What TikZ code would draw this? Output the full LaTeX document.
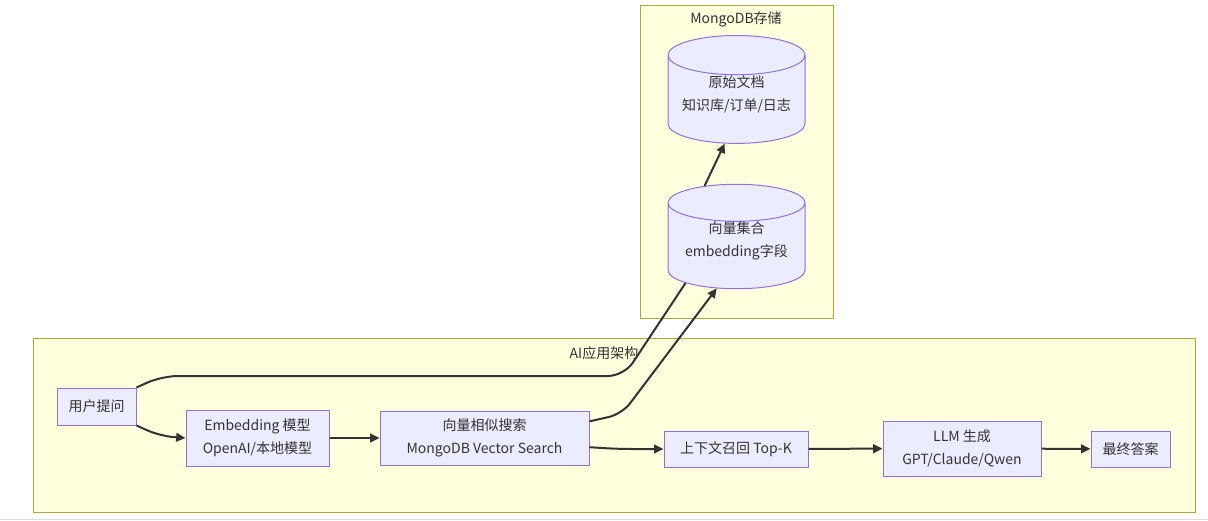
\documentclass[tikz,border=0pt]{standalone}
\usepackage{fontspec}
\setmainfont{Noto Sans CJK SC}
\usepackage{tikz}
\usetikzlibrary{shapes.geometric, arrows.meta, positioning}
\definecolor{cNode}{HTML}{ECECFF}
\definecolor{cNodeLine}{HTML}{9370DB}
\definecolor{cGroup}{HTML}{FFFFDE}
\definecolor{cGroupLine}{HTML}{AAAA33}
\definecolor{cEdge}{HTML}{333333}
\tikzset{
	proc/.style   ={rectangle, draw=cNodeLine, fill=cNode, line width=0.75pt, align=center, text=cEdge, inner sep=0pt},
	store/.style  ={cylinder, shape border rotate=90, aspect=0.36, draw=cNodeLine, fill=cNode, line width=0.75pt, align=center, text=cEdge, minimum width=102.75pt, minimum height=64pt, inner sep=0pt, text depth=10pt},
	group/.style  ={draw=cGroupLine, fill=cGroup, line width=0.75pt},
	gtitle/.style ={text=cEdge, inner sep=0pt},
	sig/.style    ={-{Triangle[length=7pt, width=6.5pt]}, line width=1.5pt, draw=cEdge, rounded corners=10pt},
	plain/.style  ={line width=1.5pt, draw=cEdge, rounded corners=12pt},
}
\begin{document}
\begin{tikzpicture}[x=0.75pt, y=-0.75pt, font=\fontsize{10.5}{17.5}\selectfont]
	\useasboundingbox (0,0) rectangle (1208,521);
	\draw[gray!25, line width=0.75pt] (0,519.5) -- (1208,519.5);
	% groups
	\draw[group] (640,5) rectangle (833,318);
	\node[gtitle] (dbtitle) at (736,19) {MongoDB存储};
	\draw[group] (33,338) rectangle (1195,512);
	\node[gtitle] (aititle) at (604,353) {AI应用架构};
	% storage
	\node[store] (raw) at (736.5,99.5) {原始文档\\知识库/订单/日志};
	\node[store] (vec) at (736.5,246) {向量集合\\embedding字段};
	% pipeline
	\node[proc, minimum width=59.25pt, minimum height=27.75pt] (ask) at (96.5,406.5) {用户提问};
	\node[proc, minimum width=107.25pt, minimum height=42pt] (emb) at (257.5,438) {Embedding 模型\\OpenAI/本地模型};
	\node[proc, minimum width=156.75pt, minimum height=40.5pt] (search) at (484.5,438) {向量相似搜索\\MongoDB Vector Search};
	\node[proc, minimum width=108pt, minimum height=27pt] (ctx) at (736,449) {上下文召回 Top-K};
	\node[proc, minimum width=118.5pt, minimum height=41.25pt] (llm) at (962,448.5) {LLM 生成\\GPT/Claude/Qwen};
	\node[proc, minimum width=59.25pt, minimum height=27pt] (ans) at (1130.5,449) {最终答案};
	% edges
	\draw[plain] (ask.north east) -- (162,376) -- (624,376) -- (vec.216);
	\draw[sig] (ask.south east) -- (160,436) -- (emb.west);
	\draw[sig] (emb) -- (search);
	\draw[sig] (search.9) -- (622,414) -- (vec.245);
	\draw[sig] (search.-5) -- (618,449) -- (ctx.west);
	\draw[sig] (ctx) -- (llm);
	\draw[sig] (llm) -- (ans);
	\draw[sig] (vec.118) -- (raw.255);
\end{tikzpicture}
\end{document}
